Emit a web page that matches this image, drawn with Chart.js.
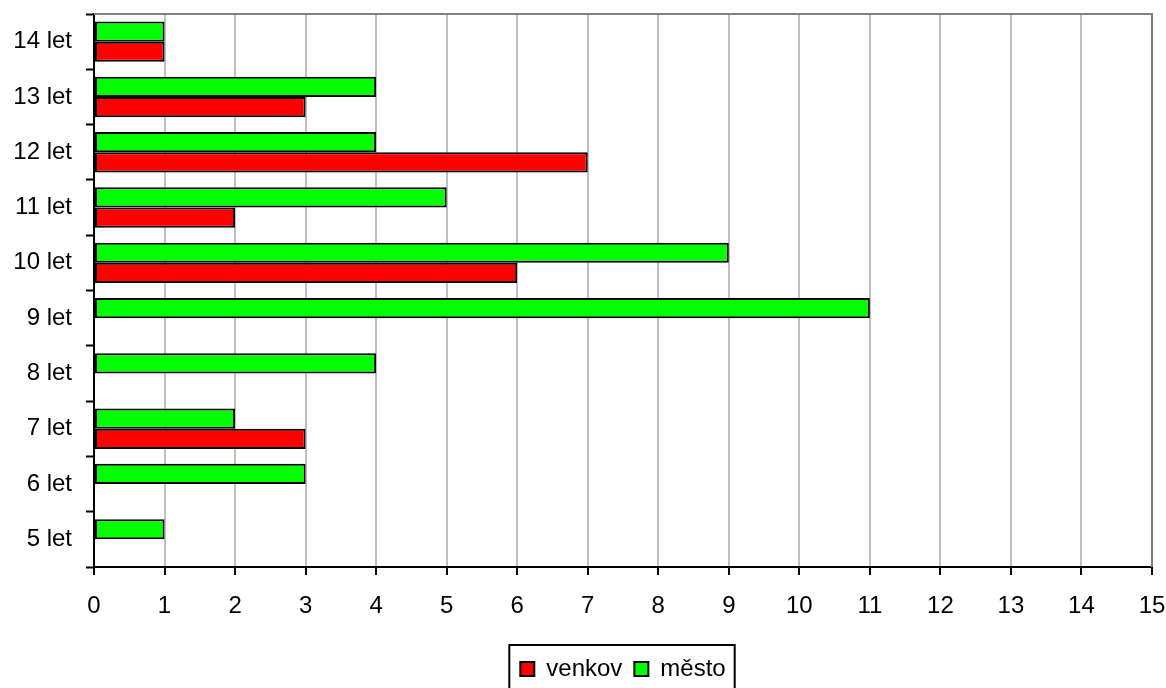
<!DOCTYPE html>
<html>
<head>
<meta charset="utf-8">
<script src="https://cdn.jsdelivr.net/npm/chart.js@4/dist/chart.umd.min.js"></script>
<style>
  html, body { margin: 0; padding: 0; background: #ffffff; }
  #wrap { width: 1166px; height: 688px; }
</style>
</head>
<body>
<div id="wrap"><canvas id="c" width="1166" height="688"></canvas></div>
<script>
// Age groups, listed top to bottom
const ageGroups = ['14 let', '13 let', '12 let', '11 let', '10 let', '9 let', '8 let', '7 let', '6 let', '5 let'];
// Counts per age group
const venkov = [1, 3, 7, 2, 6, null, null, 3, null, null];
const mesto  = [1, 4, 4, 5, 9, 11, 4, 2, 3, 1];
const xTicks = [0, 1, 2, 3, 4, 5, 6, 7, 8, 9, 10, 11, 12, 13, 14, 15];

const FONT = 'Liberation Sans, Arial, sans-serif';

// Frame on the top and right of the plot, and a box round the legend
const framePlugin = {
  id: 'frame',
  afterLayout(chart) {
    const lg = chart.legend;
    if (lg) { lg.top += 3; lg.bottom += 3; }
  },
  beforeDatasetsDraw(chart) {
    const { ctx, chartArea: a } = chart;
    ctx.save();
    ctx.strokeStyle = '#808080';
    ctx.lineWidth = 2;
    ctx.beginPath();
    ctx.moveTo(a.left, a.top);
    ctx.lineTo(a.right, a.top);
    ctx.lineTo(a.right, a.bottom);
    ctx.stroke();
    ctx.restore();
  },
  afterDraw(chart) {
    const lg = chart.legend;
    if (!lg || !lg.legendHitBoxes || !lg.legendHitBoxes.length) return;
    const hb = lg.legendHitBoxes;
    let l = Infinity, r = -Infinity, t = Infinity, b = -Infinity;
    hb.forEach(h => {
      l = Math.min(l, h.left); r = Math.max(r, h.left + h.width);
      t = Math.min(t, h.top); b = Math.max(b, h.top + h.height);
    });
    const { ctx } = chart;
    const cy = (t + b) / 2;
    ctx.save();
    ctx.strokeStyle = '#000000';
    ctx.lineWidth = 2;
    ctx.strokeRect(l - 11, cy - 24, (r - l) + 20, 48);
    ctx.restore();
  }
};

new Chart(document.getElementById('c'), {
  type: 'bar',
  data: {
    labels: ageGroups,
    datasets: [
      {
        label: 'město',
        data: mesto,
        backgroundColor: '#00ff00',
        borderColor: '#000000',
        borderWidth: 2,
        borderSkipped: false
      },
      {
        label: 'venkov',
        data: venkov,
        backgroundColor: '#ff0000',
        borderColor: '#000000',
        borderWidth: 2,
        borderSkipped: false
      }
    ]
  },
  options: {
    indexAxis: 'y',
    responsive: false,
    animation: false,
    devicePixelRatio: 1,
    layout: { padding: { left: 0, right: 14, top: 14, bottom: 0 } },
    datasets: { bar: { categoryPercentage: 0.73, barPercentage: 1.0 } },
    plugins: {
      tooltip: { enabled: false },
      legend: {
        position: 'bottom',
        fullSize: false,
        reverse: true,
        labels: {
          color: '#000000',
          font: { family: FONT, size: 24 },
          boxWidth: 14,
          boxHeight: 14,
          padding: 12,
          generateLabels(chart) {
            return chart.data.datasets.map((ds, i) => ({
              text: ds.label,
              fillStyle: ds.backgroundColor,
              strokeStyle: '#000000',
              lineWidth: 2,
              hidden: false,
              datasetIndex: i,
              fontColor: '#000000'
            }));
          }
        }
      }
    },
    scales: {
      x: {
        type: 'linear',
        min: 0,
        max: 15,
        afterBuildTicks(scale) { scale.ticks = xTicks.map(v => ({ value: v })); },
        afterFit(scale) {
          scale.height = 75;
          scale.paddingLeft = 0;
          scale.paddingRight = 0;
        },
        ticks: {
          color: '#000000',
          font: { family: FONT, size: 24 },
          padding: 17,
          maxRotation: 0
        },
        grid: {
          color: '#c0c0c0',
          lineWidth: 2,
          drawTicks: true,
          tickLength: 8,
          tickColor: '#000000',
          tickWidth: 2
        },
        border: { display: true, color: '#000000', width: 2 }
      },
      y: {
        type: 'category',
        afterFit(scale) {
          scale.width = 94;
          scale.paddingTop = 0;
          scale.paddingBottom = 0;
        },
        ticks: {
          color: '#000000',
          font: { family: FONT, size: 24 },
          padding: 14
        },
        grid: {
          offset: true,
          drawOnChartArea: false,
          drawTicks: true,
          tickLength: 8,
          color: '#000000',
          tickColor: '#000000',
          tickWidth: 2
        },
        border: { display: true, color: '#000000', width: 2 }
      }
    }
  },
  plugins: [framePlugin]
});
</script>
</body>
</html>
